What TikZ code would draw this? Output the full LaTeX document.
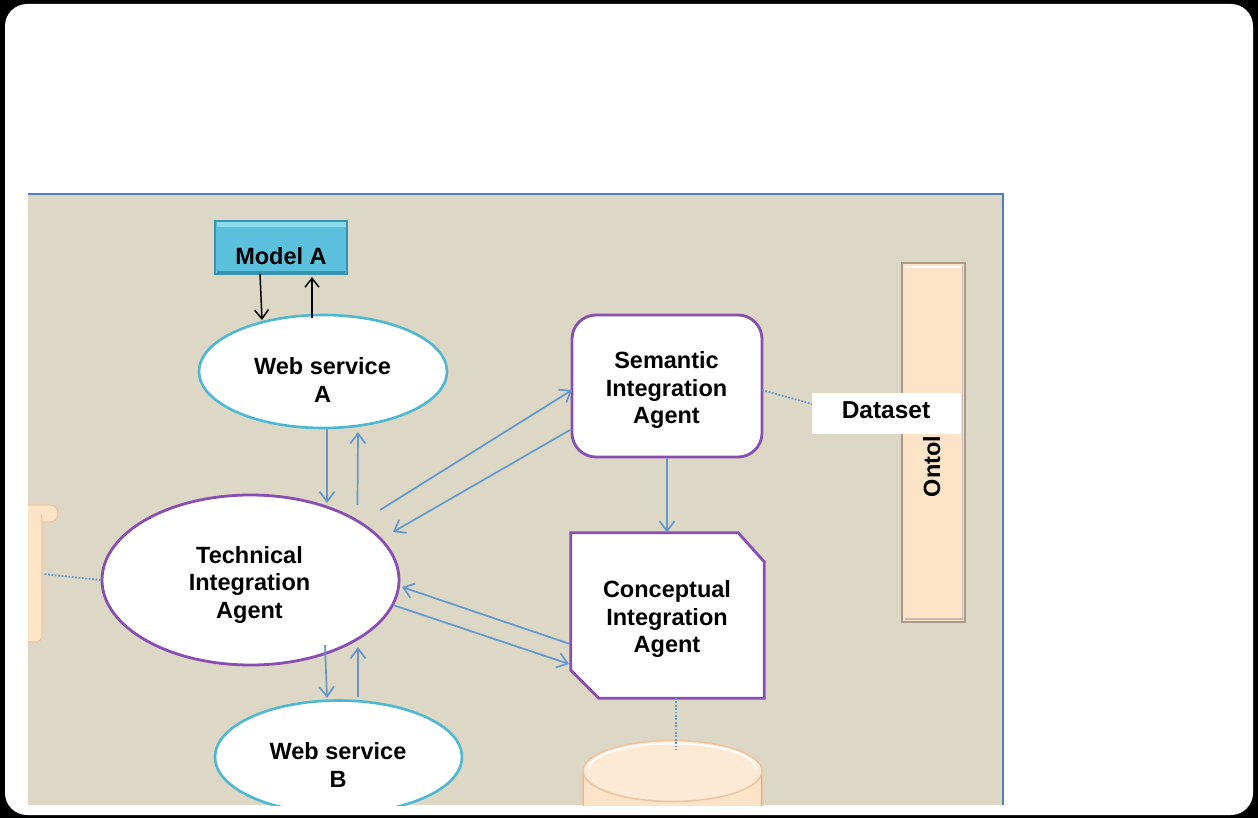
\documentclass[tikz,border=0pt]{standalone}
\usepackage{fontspec}
\setmainfont{Liberation Sans}
\usetikzlibrary{arrows.meta,calc,shapes.geometric}

\definecolor{panelfill}{RGB}{221,216,198}
\definecolor{panelline}{RGB}{79,129,189}
\definecolor{flowblue}{RGB}{98,152,208}
\definecolor{wscyan}{RGB}{78,184,210}
\definecolor{agentpurple}{RGB}{136,78,180}
\definecolor{modelfill}{RGB}{90,192,220}
\definecolor{modeledge}{RGB}{52,148,178}
\definecolor{modellight}{RGB}{140,218,238}
\definecolor{peach}{RGB}{253,228,201}
\definecolor{peachedge}{RGB}{238,196,160}
\definecolor{baredge}{RGB}{172,152,136}

\begin{document}
\begin{tikzpicture}[x=1bp,y=-1bp,
  txt/.style={font=\fontsize{23.5bp}{27.5bp}\selectfont\bfseries, align=center, inner sep=0pt},
  wsbox/.style={ellipse, draw=wscyan, fill=white, line width=2.6bp, inner sep=0pt},
  agentell/.style={ellipse, draw=agentpurple, fill=white, line width=2.8bp, inner sep=0pt},
  flow/.style={draw=flowblue, line width=1.7bp, -{Straight Barb[length=10bp,width=15bp]}},
  ctl/.style={draw=black, line width=1.5bp, -{Straight Barb[length=9bp,width=14bp]}},
  link/.style={draw=flowblue, line width=1.8bp, dash pattern=on 1.8bp off 1.6bp},
]
% frame
\fill[black] (0,0) rectangle (1258,818);
\fill[white, rounded corners=22bp] (5,4) rectangle (1253,815);

\begin{scope}
\clip (28,194) rectangle (1004,805);
\fill[panelfill] (28,194) rectangle (1004,805);

% partial bar on the left edge
\filldraw[fill=peach, draw=peachedge, line width=1.2bp, rounded corners=8bp] (18,505) rectangle (58,522);
\filldraw[fill=peach, draw=peachedge, line width=1.2bp, rounded corners=6bp] (18,512) rectangle (42,642);
\fill[peach] (19,506) rectangle (41,521);
\coordinate (lb) at (43,574);

% ontology bar
\node[rectangle, fill=peach, draw=baredge, line width=1.4bp, minimum width=63bp, minimum height=359bp, inner sep=0pt] (onto) at (933.5,442.5) {};
\draw[white, line width=2bp, opacity=0.8] (905,267) -- (962,267);
\draw[baredge!70, line width=1.5bp] (962.5,266) -- (962.5,619) -- (905,619);
\node[txt, rotate=90] (ontotext) at (934,445.5) {Ontology};

% model box
\node[rectangle, fill=modelfill, draw=modeledge, line width=1.2bp, minimum width=132bp, minimum height=53bp, inner sep=0pt] (modelA) at (281,247.5) {};
\fill[modellight] (216.5,222) rectangle (345.5,227);
\draw[modeledge, line width=1.5bp] (217,272) -- (345,272);
\node[txt] (modelAtext) at (281,256) {Model A};

% web services
\node[wsbox, minimum width=248bp, minimum height=113bp] (wsA) at (323,371.5) {};
\node[txt] (wsAtext) at (322.5,380) {Web service\\A};
\node[wsbox, minimum width=247bp, minimum height=113bp] (wsB) at (338.5,757) {};
\node[txt] (wsBtext) at (338,765) {Web service\\B};

% technical agent
\node[agentell, minimum width=297bp, minimum height=170bp] (tia) at (250.5,580) {};
\node[txt] (tiatext) at (249.5,584.5) {Technical\\Integration\\Agent};

% semantic agent
\node[rectangle, rounded corners=24bp, draw=agentpurple, fill=white, line width=2.8bp, minimum width=190bp, minimum height=142bp, inner sep=0pt] (sia) at (667,386) {};
\node[txt] (siatext) at (666.5,390) {Semantic\\Integration\\Agent};

% conceptual agent (chamfered box)
\node[rectangle, minimum width=193bp, minimum height=165bp, inner sep=0pt] (cia) at (667.5,615.5) {};
\filldraw[fill=white, draw=agentpurple, line width=2.8bp]
  (cia.north west) -- ([xshift=-26bp]cia.north east) -- ([yshift=-29bp]cia.north east)
  -- (cia.south east) -- ([xshift=28bp]cia.south west) -- ([yshift=28bp]cia.south west) -- cycle;
\node[txt] (ciatext) at (667,619) {Conceptual\\Integration\\Agent};

% database cylinder
\coordinate (db) at (672.5,741);
\filldraw[fill=peach, draw=peachedge, line width=1.2bp] (583,771) -- (583,830) -- (762,830) -- (762,771);
\draw[baredge!80, line width=1.5bp] (761.5,771) -- (761.5,830);
\draw[baredge!60, line width=1.2bp] (583.5,771) -- (583.5,830);
\filldraw[fill=peach!80!white, draw=peachedge, line width=1.5bp] (672.5,771) ellipse [x radius=89.5bp, y radius=30.5bp];
\draw[white, line width=2.2bp, opacity=0.85] (589,769) arc [start angle=180, end angle=0, x radius=83.5bp, y radius=25.5bp];

% dataset label
\node[rectangle, fill=white, minimum width=149bp, minimum height=41bp, inner sep=0pt] (dataset) at (886.5,413.5) {};
\node[txt, font=\fontsize{24.5bp}{28bp}\selectfont\bfseries] (datasettext) at (886,410) {Dataset};

% model exchange
\draw[ctl] ($(modelA)+(-21,26.5)$) -- ($(wsA)+(-61,-51.5)$);
\draw[ctl] ($(wsA)+(-11,-53.5)$) -- ($(modelA)+(31,29.5)$);

% service exchange
\draw[flow] ($(wsA)+(4,57.5)$) -- ($(tia)+(76.5,-77)$);
\draw[flow] ($(tia)+(107,-75)$) -- ($(wsA)+(35,60.5)$);
\draw[flow] ($(tia)+(74.5,65)$) -- ($(wsB)+(-11.5,-59)$);
\draw[flow] ($(wsB)+(19.5,-60)$) -- ($(tia)+(107.5,67)$);

% agent exchange
\draw[flow] ($(tia)+(129.5,-70)$) -- ($(sia)+(-95,4)$);
\draw[flow] ($(sia)+(-97,44)$) -- ($(tia)+(142.5,-48)$);
\draw[flow] ($(cia)+(-97.5,28.5)$) -- ($(tia)+(151.5,7)$);
\draw[flow] ($(tia)+(142.5,25)$) -- ($(cia)+(-98.5,48.5)$);
\draw[flow] ($(sia)+(0,72)$) -- ($(cia)+(-0.5,-83)$);

% associations
\draw[link] ($(sia)+(95,4)$) -- ($(dataset)+(-74.5,-9.5)$);
\draw[link] (tia.west) -- (lb);
\draw[link] ($(cia)+(8.5,82.5)$) -- ($(db)+(3.5,9)$);
\end{scope}

% panel edges
\draw[panelline, line width=2bp] (28,194) -- (1003,194) -- (1003,805);
\end{tikzpicture}
\end{document}
